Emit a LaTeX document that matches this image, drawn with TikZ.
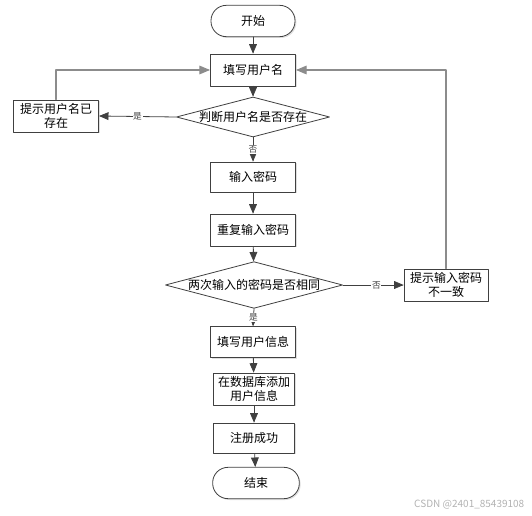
\documentclass[tikz,border=0pt]{standalone}
\usepackage{fontspec}
\setmainfont{Noto Sans CJK SC}
\usetikzlibrary{arrows,shapes.geometric,shadows}
\definecolor{linegray}{rgb}{0.25,0.25,0.25}
\definecolor{loopgray}{rgb}{0.55,0.55,0.55}
\definecolor{markgray}{rgb}{0.7,0.7,0.7}

\begin{document}
\begin{tikzpicture}[line cap=round,line join=round,>=triangle 45,x=0.75pt,y=-0.75pt,
	font=\fontsize{9}{11}\selectfont,
	box/.style={draw=linegray,fill=white,line width=0.6pt,minimum width=64pt,minimum height=24pt,inner sep=1pt,align=center,
		drop shadow={shadow xshift=1pt,shadow yshift=-1pt,opacity=0.25}},
	term/.style={box,rounded corners=11.5pt,minimum width=63pt,minimum height=23.5pt},
	decide/.style={diamond,draw=linegray,fill=white,line width=0.6pt,aspect=3.8,inner sep=0pt},
	flow/.style={->,color=linegray,line width=0.6pt},
	back/.style={->,color=loopgray,line width=0.8pt},
	tag/.style={fill=white,inner sep=0.5pt,font=\fontsize{6.5}{7}\selectfont}]
	\useasboundingbox (0,0) rectangle (532,516);
	% main column
	\node[term] (start) at (253,21) {开始};
	\node[box] (name) at (253,70) {填写用户名};
	\node[decide,minimum width=115pt,minimum height=30pt] (chk) at (253,117) {判断用户名是否存在};
	\node[box] (exist) at (56,116) {提示用户名已\\存在};
	\node[box,minimum height=22.5pt] (pwd) at (253,177) {输入密码};
	\node[box] (pwd2) at (253,230) {重复输入密码};
	\node[decide,minimum width=133pt,minimum height=35pt] (same) at (254,285) {两次输入的密码是否相同};
	\node[box,minimum width=63pt] (diff) at (446,285) {提示输入密码\\不一致};
	\node[box,minimum height=23pt] (info) at (253,342) {填写用户信息};
	\node[box,minimum width=61pt] (db) at (254,389) {在数据库添加\\用户信息};
	\node[box,minimum width=61pt,minimum height=22.5pt] (ok) at (254,438) {注册成功};
	\node[term,minimum width=65pt] (end) at (256,483) {结束};
	% connectors
	\draw[flow] (start) -- (name);
	\draw[flow] (name) -- (chk);
	\draw[flow] (chk.west) -- node[tag] {是} (exist.east);
	\draw[flow] (chk.south) -- node[tag] {否} (pwd.north);
	\draw[back] (exist.north) |- (name.west);
	\draw[flow] (pwd) -- (pwd2);
	\draw[flow] (pwd2) -- (same);
	\draw[flow] (same.east) -- node[tag,pos=0.55] {否} (diff.west);
	\draw[back] (diff.north) |- (name.east);
	\draw[flow] (same.south) -- node[tag] {是} (info.north);
	\draw[flow] (info) -- (db);
	\draw[flow] (db) -- (ok);
	\draw[flow] (ok) -- (end);
	\node[text=markgray,font=\fontsize{7.5}{8}\selectfont,anchor=east] (mark) at (529,505) {CSDN @2401\_85439108};
\end{tikzpicture}
\end{document}
